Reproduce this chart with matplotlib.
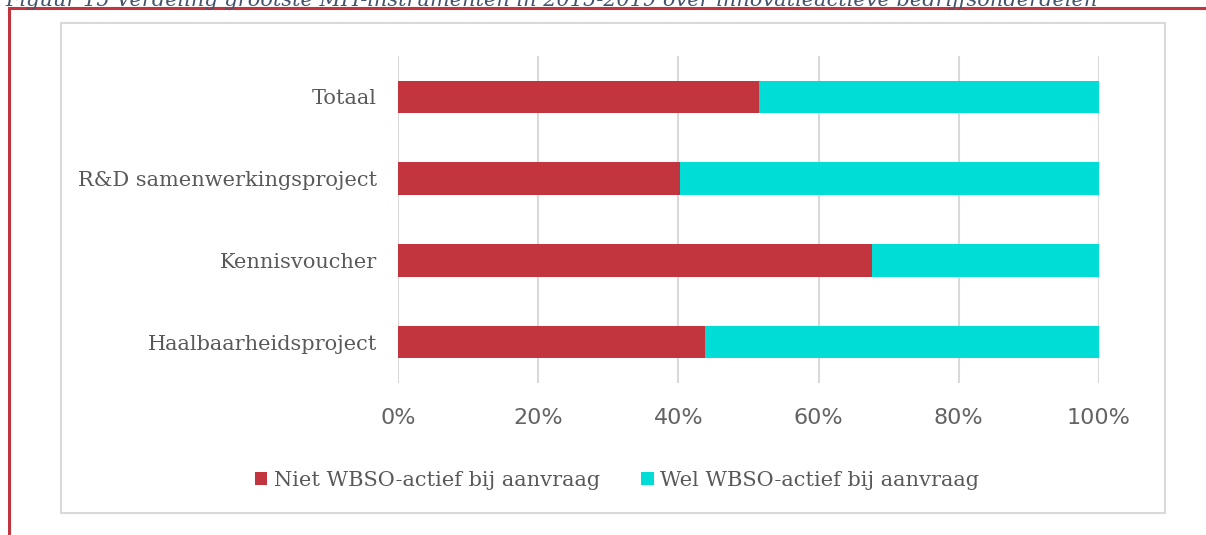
# coding=utf-8
# Verdeling MIT-instrumenten naar WBSO-status (gestapelde staven)
import matplotlib.pyplot as plt
from matplotlib.patches import Rectangle
from matplotlib.lines import Line2D

# Datos
categorias = ["Haalbaarheidsproject", "Kennisvoucher", "R&D samenwerkingsproject", "Totaal"]
niet_wbso = [43.8, 67.6, 40.2, 51.5]
wel_wbso = [56.2, 32.4, 59.8, 48.5]
series = ["Niet WBSO-actief bij aanvraag", "Wel WBSO-actief bij aanvraag"]
ticks_x = [0, 20, 40, 60, 80, 100]
titulo = "Figuur 15 Verdeling grootste MIT-instrumenten in 2015-2019 over innovatieactieve bedrijfsonderdelen"

ROJO = "#c3353e"
CIAN = "#00dcd6"
GRIS = "#595959"

W, H = 1206, 535
fig = plt.figure(figsize=(W / 100, H / 100), dpi=100)

# marco rojo de la pagina y caja gris del grafico
fig.add_artist(Line2D([9 / W, 1], [1 - 8 / H, 1 - 8 / H], color=ROJO, lw=2.2, transform=fig.transFigure))
fig.add_artist(Line2D([9 / W, 9 / W], [0, 1 - 8 / H], color=ROJO, lw=2.2, transform=fig.transFigure))
fig.add_artist(Rectangle((61 / W, 1 - 513 / H), (1165 - 61) / W, (513 - 23) / H,
                         fill=False, edgecolor="#d9d9d9", lw=1.5, transform=fig.transFigure))
fig.text(5 / W, 1 - 1 / H, titulo, fontsize=15, style="italic", family="DejaVu Serif",
         color="#44546a", va="center", ha="left")

ax = fig.add_axes([398 / W, 1 - 383 / H, (1099 - 398) / W, (383 - 56) / H])
y = range(len(categorias))
ax.barh(y, niet_wbso, height=0.4, color=ROJO, label=series[0], zorder=3)
ax.barh(y, wel_wbso, left=niet_wbso, height=0.4, color=CIAN, label=series[1], zorder=3)

ax.set_xlim(0, 100)
ax.set_ylim(-0.5, len(categorias) - 0.5)
ax.set_xticks(ticks_x)
ax.set_xticklabels([str(t) + "%" for t in ticks_x], fontsize=16, color="#636363")
ax.set_yticks(list(y))
ax.set_yticklabels(categorias, fontsize=15, family="DejaVu Serif", color=GRIS)
ax.tick_params(axis="x", length=0, pad=18)
ax.tick_params(axis="y", length=0, pad=15)
ax.grid(axis="x", color="#d9d9d9", lw=1.5, zorder=0)
for s in ax.spines.values():
    s.set_visible(False)

fig.legend(loc="center", bbox_to_anchor=(617 / W, 1 - 480 / H), ncol=2, frameon=False,
           prop={"family": "DejaVu Serif", "size": 15}, labelcolor=GRIS,
           handlelength=0.6, handleheight=0.6, handletextpad=0.3, columnspacing=2.0)

fig.savefig("out.png", dpi=100)
